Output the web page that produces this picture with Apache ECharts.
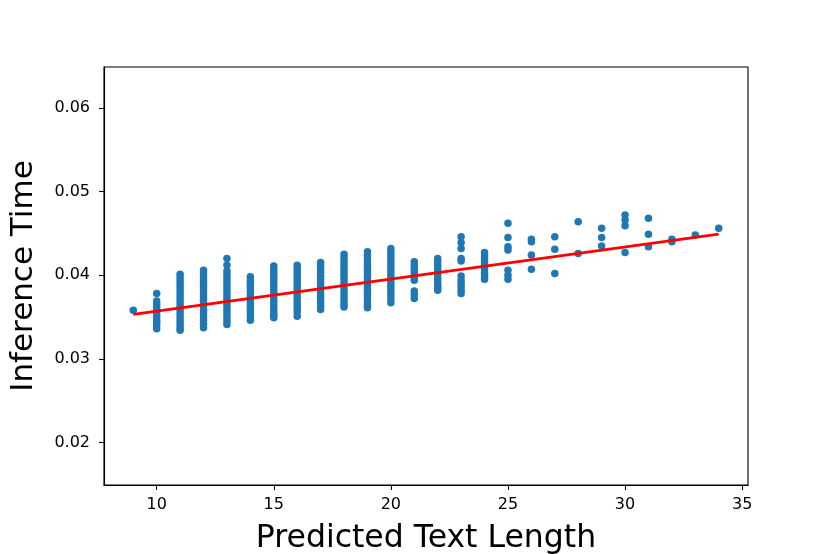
<!DOCTYPE html>
<html>
<head>
<meta charset="utf-8">
<script src="https://cdn.jsdelivr.net/npm/echarts@6/dist/echarts.min.js"></script>
<style>html,body{margin:0;padding:0;background:#fff}#c{width:830px;height:554px}</style>
</head>
<body>
<div id="c"></div>
<script>
// Inference time per predicted text length (one array per length)
const t9  = [0.0358];
const t10 = [0.0378, 0.0369, 0.0365, 0.0361, 0.0357, 0.0353, 0.0349, 0.0346, 0.0343, 0.0340, 0.0336];
const t11 = [0.0401, 0.0397, 0.0393, 0.0389, 0.0385, 0.0381, 0.0377, 0.0373, 0.0369, 0.0365, 0.0361, 0.0357, 0.0353, 0.0349, 0.0345, 0.0341, 0.0337, 0.0334];
const t12 = [0.0406, 0.0402, 0.0398, 0.0394, 0.0390, 0.0386, 0.0382, 0.0378, 0.0374, 0.0370, 0.0366, 0.0362, 0.0358, 0.0354, 0.0350, 0.0346, 0.0342, 0.0337];
const t13 = [0.0420, 0.0412, 0.0405, 0.0401, 0.0397, 0.0393, 0.0389, 0.0385, 0.0381, 0.0377, 0.0373, 0.0369, 0.0365, 0.0361, 0.0357, 0.0353, 0.0349, 0.0345, 0.0341];
const t14 = [0.0398, 0.0394, 0.0390, 0.0386, 0.0382, 0.0378, 0.0374, 0.0370, 0.0366, 0.0362, 0.0358, 0.0354, 0.0350, 0.0346];
const t15 = [0.0411, 0.0407, 0.0403, 0.0399, 0.0395, 0.0391, 0.0387, 0.0383, 0.0379, 0.0375, 0.0371, 0.0367, 0.0363, 0.0359, 0.0355, 0.0352, 0.0349];
const t16 = [0.0412, 0.0408, 0.0404, 0.0400, 0.0396, 0.0392, 0.0388, 0.0384, 0.0380, 0.0376, 0.0372, 0.0368, 0.0364, 0.0360, 0.0356, 0.0351];
const t17 = [0.0415, 0.0411, 0.0407, 0.0403, 0.0399, 0.0395, 0.0391, 0.0387, 0.0383, 0.0379, 0.0375, 0.0371, 0.0367, 0.0363, 0.0359];
const t18 = [0.0425, 0.0421, 0.0417, 0.0413, 0.0409, 0.0405, 0.0401, 0.0397, 0.0393, 0.0389, 0.0385, 0.0381, 0.0377, 0.0373, 0.0369, 0.0365, 0.0362];
const t19 = [0.0428, 0.0424, 0.0420, 0.0416, 0.0412, 0.0408, 0.0404, 0.0400, 0.0396, 0.0392, 0.0388, 0.0384, 0.0380, 0.0376, 0.0372, 0.0368, 0.0364, 0.0361];
const t20 = [0.0432, 0.0428, 0.0424, 0.0420, 0.0416, 0.0412, 0.0408, 0.0404, 0.0400, 0.0396, 0.0392, 0.0388, 0.0384, 0.0380, 0.0376, 0.0372, 0.0367];
const t21 = [0.0416, 0.0412, 0.0408, 0.0404, 0.0400, 0.0397, 0.0394, 0.0381, 0.0377, 0.0372];
const t22 = [0.0420, 0.0416, 0.0412, 0.0408, 0.0404, 0.0400, 0.0396, 0.0392, 0.0388, 0.0385, 0.0382];
const t23 = [0.0446, 0.0439, 0.0432, 0.0420, 0.0417, 0.0399, 0.0394, 0.0390, 0.0386, 0.0382, 0.0378];
const t24 = [0.0427, 0.0423, 0.0419, 0.0415, 0.0411, 0.0407, 0.0403, 0.0399, 0.0395];
const t25 = [0.0462, 0.0445, 0.0434, 0.0430, 0.0406, 0.0400, 0.0395];
const t26 = [0.0443, 0.0440, 0.0424, 0.0407];
const t27 = [0.0446, 0.0431, 0.0402];
const t28 = [0.0464, 0.0426];
const t29 = [0.0456, 0.0445, 0.0435];
const t30 = [0.0472, 0.0466, 0.0459, 0.0427];
const t31 = [0.0468, 0.0449, 0.0434];
const t32 = [0.0443, 0.0440];
const t33 = [0.0448];
const t34 = [0.0456];

const lengths = [9,10,11,12,13,14,15,16,17,18,19,20,21,22,23,24,25,26,27,28,29,30,31,32,33,34];
const columns = [t9,t10,t11,t12,t13,t14,t15,t16,t17,t18,t19,t20,t21,t22,t23,t24,t25,t26,t27,t28,t29,t30,t31,t32,t33,t34];

// Fitted regression line endpoints
const fitX = [9, 34];
const fitY = [0.0353, 0.0449];

const xTicks = [10, 15, 20, 25, 30, 35];
const yTicks = [0.02, 0.03, 0.04, 0.05, 0.06];

const points = [];
lengths.forEach((len, i) => columns[i].forEach(v => points.push([len, v])));
const fitLine = fitX.map((x, i) => [x, fitY[i]]);

const font = 'DejaVu Sans';
const chart = echarts.init(document.getElementById('c'), null, {renderer: 'canvas'});
chart.setOption({
  animation: false,
  backgroundColor: '#ffffff',
  grid: {left: 104, right: 82, top: 67, bottom: 69, outerBoundsMode: 'none', containLabel: false, show: true, borderColor: '#000', borderWidth: 1.1, backgroundColor: 'transparent'},
  xAxis: {
    type: 'value', min: 7.75, max: 35.25,
    name: 'Predicted Text Length', nameLocation: 'middle', nameGap: 38,
    nameTextStyle: {fontFamily: font, fontSize: 31.5, color: '#000'},
    axisLine: {show: true, lineStyle: {color: '#000', width: 1.1}},
    axisTick: {show: true, length: 5, lineStyle: {color: '#000', width: 1.1}, customValues: xTicks},
    axisLabel: {fontFamily: font, fontSize: 16, color: '#000', margin: 12, customValues: xTicks, formatter: v => String(v)},
    splitLine: {show: false}
  },
  yAxis: {
    type: 'value', min: 0.0149, max: 0.0649,
    name: 'Inference Time', nameLocation: 'middle', nameGap: 65,
    nameTextStyle: {fontFamily: font, fontSize: 31, color: '#000'},
    axisLine: {show: true, lineStyle: {color: '#000', width: 1.1}},
    axisTick: {show: true, length: 5, lineStyle: {color: '#000', width: 1.1}, customValues: yTicks},
    axisLabel: {fontFamily: font, fontSize: 16, color: '#000', margin: 14, customValues: yTicks, formatter: v => v.toFixed(2)},
    splitLine: {show: false}
  },
  series: [
    {type: 'scatter', data: points, symbolSize: 7.5, itemStyle: {color: '#1f77b4', opacity: 1}, z: 2},
    {type: 'line', data: fitLine, symbol: 'none', lineStyle: {color: '#ff0000', width: 2.8}, z: 3}
  ]
});
</script>
</body>
</html>
